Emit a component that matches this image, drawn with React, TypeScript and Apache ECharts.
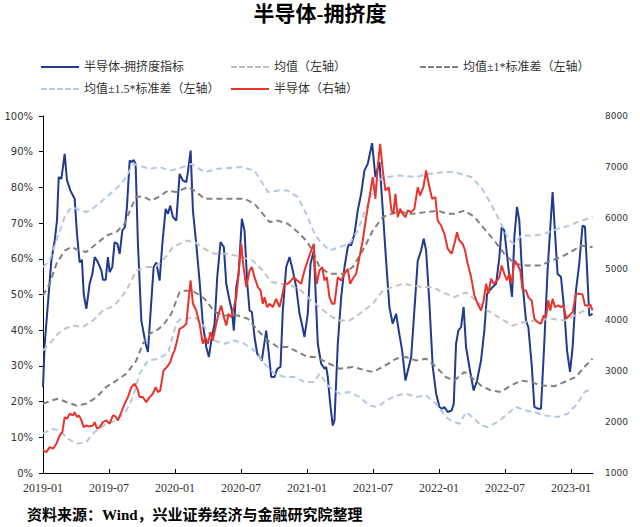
import React, { useEffect, useRef } from "react";
import * as echarts from "echarts";

// x values are months since 2019-01
const xTickLabels = ["2019-01", "2019-07", "2020-01", "2020-07", "2021-01", "2021-07", "2022-01", "2022-07", "2023-01"];
const leftTicks = [0, 10, 20, 30, 40, 50, 60, 70, 80, 90, 100];
const rightTicks = [1000, 2000, 3000, 4000, 5000, 6000, 7000, 8000];

// 半导体-拥挤度指标 (%)
const crowding: [number, number][] = [
  [0, 24], [0.15, 36], [0.76, 59.5], [1.06, 65], [1.27, 70.7], [1.43, 82.9], [1.67, 82.4], [1.97, 89.4], [2.18, 82], [2.49, 79.1],
  [2.88, 76.8], [3.09, 67], [3.33, 59], [3.54, 59.7], [3.7, 50.2], [3.94, 46], [4.24, 53], [4.49, 55.8], [4.7, 60.5], [5.0, 59],
  [5.31, 56.7], [5.45, 54.1], [5.7, 54.1], [5.9, 60.5], [6.06, 56.3], [6.3, 57.7], [6.51, 64.7], [6.76, 64.2], [6.97, 61.4], [7.21, 67.9],
  [7.45, 68.9], [7.63, 74.5], [7.88, 87.5], [8.06, 87.1], [8.24, 87.7], [8.42, 86.6], [8.63, 64.2], [8.94, 42.7], [9.33, 36.2], [9.54, 33.9],
  [9.85, 48.3], [10.06, 57.7], [10.3, 59], [10.6, 53.9], [10.85, 64.2], [11.15, 74], [11.36, 72.6], [11.57, 74.9], [11.81, 71.7], [12.12, 70.7],
  [12.42, 83.8], [12.72, 81.9], [13.03, 81.5], [13.17, 84.3], [13.42, 90.3], [13.63, 73.5], [13.93, 64.2], [14.23, 53.9], [14.53, 41.8], [14.84, 35.3],
  [15.08, 32.5], [15.35, 38.1], [15.6, 41.8], [15.84, 54.9], [16.14, 64.7], [16.44, 63.3], [16.66, 53], [16.96, 48.3], [17.17, 45.5], [17.35, 39.9],
  [17.57, 52.1], [17.78, 55.8], [18.08, 71.2], [18.32, 67.9], [18.57, 53], [18.78, 45.5], [18.99, 45.1], [19.23, 38.1], [19.48, 33.4], [19.89, 31.5],
  [20.29, 39.9], [20.5, 34.3], [20.75, 26.9], [21.05, 26.9], [21.29, 29.2], [21.59, 29.7], [21.8, 45.5], [22.11, 57.7], [22.41, 60.5], [22.71, 56.7],
  [23.02, 52.1], [23.32, 44.6], [23.53, 41.8], [23.77, 38.1], [24.07, 44.6], [24.32, 58.6], [24.62, 62.3], [24.98, 36.2], [25.29, 30.6], [25.59, 29.2],
  [25.74, 29.7], [25.89, 26.9], [26.11, 19.4], [26.34, 13.3], [26.5, 14.7], [26.8, 36.2], [27.11, 49.3], [27.41, 57.7], [27.71, 63.3], [27.86, 64.2],
  [28.01, 63.7], [28.32, 67], [28.61, 73.5], [28.92, 78.2], [29.22, 84.7], [29.52, 86.6], [29.92, 92.4], [30.22, 82.9], [30.59, 87.1], [30.89, 73.5],
  [31.19, 59.5], [31.49, 46.5], [31.79, 41.8], [32.1, 44.6], [32.34, 39.9], [32.65, 34.3], [32.95, 25.9], [33.25, 29.7], [33.47, 32.5], [33.76, 45.5],
  [34.07, 59.5], [34.37, 62.3], [34.61, 65.6], [34.83, 62.3], [35.13, 47.4], [35.43, 29.7], [35.74, 22.2], [36.04, 18.5], [36.28, 18], [36.49, 18.5],
  [36.79, 17.1], [37.15, 17.5], [37.34, 19.4], [37.55, 36.2], [37.76, 39.9], [38.01, 40.9], [38.24, 46.5], [38.46, 35.3], [38.76, 29.7], [39.15, 23.1],
  [39.46, 25.9], [39.82, 31.5], [40.12, 39.9], [40.37, 50.2], [40.58, 51.1], [40.88, 52.1], [41.19, 53], [41.49, 60.5], [41.7, 68.9], [41.94, 67.9],
  [42.3, 57.7], [42.64, 49.3], [42.85, 66.1], [43.09, 74.5], [43.3, 70.7], [43.6, 53], [43.91, 42.7], [44.12, 40.9], [44.42, 30.6], [44.67, 18.5],
  [44.97, 18], [45.27, 18], [45.57, 36.2], [45.87, 56.7], [46.12, 68.9], [46.33, 78.7], [46.55, 67], [46.78, 55.8], [47.09, 54.9], [47.39, 45.5],
  [47.64, 34.3], [47.91, 28.3], [48.15, 35.3], [48.45, 51.1], [48.75, 58.6], [49.05, 69.3], [49.27, 69], [49.51, 53.9], [49.66, 44.1], [49.96, 44.6],
];

// 半导体 index (right axis)
const semiIndex: [number, number][] = [
  [0, 1443], [0.31, 1410], [0.61, 1508], [0.91, 1476], [1.22, 1574], [1.52, 1737], [1.76, 1802], [1.97, 2096], [2.18, 2064], [2.43, 2162],
  [2.73, 2129], [2.88, 2194], [3.09, 2096], [3.27, 2129], [3.49, 2031], [3.7, 1900], [3.94, 1933], [4.24, 1913], [4.54, 1933], [4.7, 1998],
  [4.91, 1868], [5.15, 1900], [5.45, 1998], [5.76, 2031], [6.06, 1966], [6.36, 2129], [6.6, 2109], [6.81, 2031], [7.12, 2194], [7.42, 2358],
  [7.72, 2488], [8.03, 2684], [8.33, 2750], [8.58, 2652], [8.78, 2488], [9.08, 2488], [9.39, 2390], [9.69, 2488], [9.99, 2554], [10.24, 2684],
  [10.45, 2586], [10.66, 2619], [10.96, 3011], [11.26, 3076], [11.57, 3174], [11.81, 3338], [11.96, 3400], [12.12, 3534], [12.26, 3664], [12.42, 3828],
  [12.72, 3860], [13.03, 3926], [13.17, 4252], [13.42, 4775], [13.63, 4318], [13.93, 4187], [14.23, 3926], [14.53, 3534], [14.75, 3664], [14.99, 3534],
  [15.23, 3762], [15.44, 3599], [15.75, 3926], [15.96, 4122], [16.2, 4285], [16.44, 4056], [16.66, 3893], [16.87, 4122], [17.11, 4056], [17.35, 4252],
  [17.57, 4448], [17.78, 4906], [18.02, 5494], [18.23, 5036], [18.48, 4644], [18.78, 4971], [18.99, 5036], [19.23, 4840], [19.53, 4644], [19.78, 4579],
  [19.98, 4318], [20.14, 4448], [20.38, 4252], [20.59, 4318], [20.89, 4252], [21.2, 4416], [21.5, 4252], [21.71, 4448], [21.96, 4710], [22.26, 4710],
  [22.56, 4775], [22.8, 4840], [23.11, 4775], [23.47, 4710], [23.77, 4971], [24.07, 5167], [24.38, 5363], [24.62, 5494], [24.72, 5036], [24.89, 4710],
  [25.13, 4971], [25.38, 5036], [25.59, 4775], [25.8, 4840], [26.04, 4448], [26.29, 4318], [26.5, 4318], [26.8, 4840], [27.11, 4775], [27.41, 4906],
  [27.71, 5004], [27.92, 4710], [28.16, 4808], [28.47, 4906], [28.77, 5232], [29.07, 5559], [29.38, 6016], [29.68, 6408], [29.98, 6800], [30.22, 6376],
  [30.43, 6996], [30.65, 7454], [30.89, 6931], [31.13, 6539], [31.43, 6604], [31.68, 6147], [31.86, 6082], [32.04, 6474], [32.25, 6016], [32.47, 6180],
  [32.7, 6082], [32.95, 6016], [33.16, 6147], [33.47, 6114], [33.76, 6180], [34.07, 6604], [34.28, 6441], [34.58, 6604], [34.83, 6931], [35.06, 6670],
  [35.37, 6376], [35.67, 6408], [35.88, 5951], [36.19, 5853], [36.49, 5690], [36.79, 5400], [37.15, 5298], [37.4, 5494], [37.64, 5722], [37.85, 5559],
  [38.15, 5494], [38.37, 5363], [38.61, 5102], [38.92, 4840], [39.22, 4481], [39.52, 4318], [39.82, 4187], [40.06, 4383], [40.28, 4710], [40.49, 4514],
  [40.73, 4808], [40.97, 4710], [41.28, 4775], [41.49, 4840], [41.7, 5069], [41.94, 4906], [42.18, 4775], [42.39, 4906], [42.6, 4710], [42.85, 5167],
  [43.09, 5102], [43.39, 4971], [43.6, 4579], [43.91, 4579], [44.12, 4448], [44.42, 4383], [44.67, 4024], [44.97, 3958], [45.27, 3926], [45.51, 4089],
  [45.73, 4056], [45.94, 4383], [46.12, 4187], [46.33, 4416], [46.55, 4252], [46.85, 4285], [47.09, 4252], [47.33, 4285], [47.55, 4024], [47.85, 4089],
  [48.15, 4154], [48.45, 4514], [48.75, 4514], [49.05, 4500], [49.27, 4285], [49.51, 4285], [49.75, 4298], [49.96, 4187],
];

// 均值（左轴）
const meanLine: [number, number][] = [
  [0, 34.3], [0.61, 36.2], [1.36, 39], [1.97, 40.4], [2.73, 41.3], [3.64, 40.9], [4.54, 42.7], [5.45, 45.5], [6.51, 46.9], [7.58, 51.1],
  [8.48, 56.7], [9.39, 57.7], [10.15, 57.7], [10.9, 59.5], [11.81, 63.3], [13.03, 65.1], [13.78, 64.7], [14.69, 62.8], [15.6, 61.4], [16.81, 61.4],
  [18.02, 60.5], [19.08, 59.5], [19.98, 56.7], [20.75, 53.5], [21.66, 53], [22.56, 52.5], [23.47, 51.1], [24.38, 48.3], [25.13, 46.5], [26.04, 44.1],
  [26.95, 42.7], [27.86, 42.7], [28.77, 44.6], [29.98, 47.4], [30.89, 51.1], [31.79, 52.1], [32.7, 53], [33.61, 52.5], [34.52, 52.1], [35.43, 52.1],
  [36.34, 50.6], [37.4, 49.3], [38.46, 50.6], [39.37, 48.3], [40.42, 45.5], [41.64, 43.2], [42.69, 41.3], [43.76, 42.3], [44.97, 42.7], [46.18, 43.2],
  [47.39, 42.7], [48.3, 44.1], [49.21, 45.5], [49.96, 47.4],
];

// 均值+1*标准差
const upper1: [number, number][] = [
  [0, 49.7], [0.61, 53], [1.22, 58.6], [1.97, 62.3], [2.58, 63.3], [3.33, 62.3], [3.94, 61.9], [4.85, 64.2], [5.76, 66.5], [6.67, 67.5],
  [7.42, 69.8], [8.03, 74.5], [8.48, 77.3], [9.08, 77.5], [9.85, 76.3], [10.6, 77.5], [11.36, 79.1], [12.12, 78.7], [13.17, 80.1], [13.78, 79.1],
  [14.69, 76.8], [15.9, 76.8], [17.41, 76.8], [18.32, 76.8], [19.23, 75.4], [19.98, 72.6], [20.59, 70.3], [21.35, 70.7], [22.26, 69.8], [23.16, 67.5],
  [23.93, 65.1], [24.5, 62.3], [25.13, 57.7], [26.04, 55.8], [27.25, 55.8], [28.16, 57.7], [29.07, 62.3], [29.98, 67.9], [30.89, 71.7], [31.65, 72.6],
  [32.4, 73.1], [33.61, 72.6], [34.83, 73.1], [35.88, 73.5], [36.79, 72.6], [37.4, 72.6], [38.31, 73.5], [39.22, 71.7], [40.12, 68.4], [41.03, 65.1],
  [41.94, 61.4], [42.85, 58.6], [44.06, 58.1], [45.27, 58.1], [46.18, 59.5], [47.09, 60.5], [48.0, 61.9], [48.91, 63.7], [49.96, 63.3],
];

// 均值-1*标准差
const lower1: [number, number][] = [
  [0, 19.4], [0.76, 20.3], [1.36, 20.8], [2.12, 19.9], [3.03, 18.9], [3.94, 19.4], [4.85, 21.2], [5.76, 24.1], [6.67, 25.9], [7.58, 27.8],
  [8.48, 31.5], [9.08, 36.2], [9.69, 39], [10.3, 39.9], [10.9, 41.3], [11.66, 44.6], [12.42, 50.7], [13.03, 51.1], [13.78, 50.7], [14.69, 48.8],
  [15.6, 45.1], [16.51, 44.1], [17.72, 44.1], [18.63, 43.2], [19.53, 39.9], [20.44, 37.1], [21.35, 35.3], [22.26, 35.3], [23.16, 33.9], [24.07, 32.5],
  [24.68, 32.5], [25.13, 32], [26.04, 30.6], [26.95, 29.2], [28.16, 29.7], [29.38, 28.7], [29.98, 28.3], [30.89, 29.7], [32.1, 32], [33.01, 32.5],
  [33.92, 31.5], [34.83, 32], [35.74, 29.7], [36.61, 26.9], [37.4, 25.9], [38.31, 28.3], [38.92, 26.9], [39.82, 24.5], [40.73, 23.1], [41.64, 22.7],
  [42.55, 24.5], [43.46, 25.9], [44.36, 25.5], [45.27, 24.5], [46.48, 24.3], [47.39, 25.5], [48.45, 26.9], [49.21, 29.7], [49.96, 32],
];

// 均值+1.5*标准差
const upper15: [number, number][] = [
  [0, 57.7], [0.61, 59.5], [1.22, 65.1], [1.97, 71.7], [2.58, 74.5], [3.03, 74], [3.94, 73.1], [4.7, 74.5], [5.76, 77.3], [6.81, 80.1],
  [7.58, 82.9], [8.18, 86.6], [8.78, 86.1], [9.69, 85.2], [10.6, 85.7], [11.51, 84.7], [12.26, 85.2], [13.48, 86.6], [14.69, 84.3], [15.9, 85.2],
  [18.02, 85.7], [19.23, 84.7], [19.98, 81], [20.44, 78.7], [21.35, 79.1], [22.26, 79.1], [23.16, 77.3], [23.93, 72.6], [24.68, 67], [25.13, 65.1],
  [26.04, 62.3], [26.95, 63.3], [27.86, 64.2], [28.61, 67.9], [29.52, 75.4], [30.43, 81.9], [31.19, 82.9], [32.4, 83.3], [33.92, 82.9], [35.13, 83.8],
  [36.49, 84.3], [37.4, 84.3], [38.92, 82.9], [39.82, 80.1], [40.73, 75.4], [41.64, 69.8], [42.39, 65.1], [42.85, 64.2], [43.46, 66.5], [44.67, 66.5],
  [45.57, 67], [46.78, 68.4], [47.85, 69.3], [48.6, 70.3], [49.96, 71.7],
];

// 均值-1.5*标准差
const lower15: [number, number][] = [
  [0, 11], [0.76, 12.4], [1.52, 11.9], [2.27, 9.6], [3.03, 8.2], [3.94, 8.7], [4.7, 11.5], [5.76, 13.8], [6.67, 14.7], [7.58, 17.5],
  [8.18, 21.3], [8.78, 27.8], [9.54, 31.5], [10.45, 32], [11.36, 33.5], [12.12, 41.8], [12.42, 43], [13.03, 43.2], [13.78, 43.7], [14.69, 40.9],
  [15.6, 37.1], [16.51, 36.2], [17.41, 37.1], [18.32, 36.2], [19.23, 34.3], [20.14, 30.6], [21.05, 27.8], [21.96, 26.9], [22.86, 26.9], [23.77, 25.5],
  [24.68, 25.5], [25.13, 27.8], [26.04, 24.1], [26.95, 22.2], [27.86, 22.7], [28.77, 21.3], [29.68, 18.9], [30.43, 18.5], [31.19, 20.3], [32.1, 21.7],
  [33.01, 22.2], [33.92, 21.3], [34.83, 21.7], [35.74, 19.4], [36.61, 15.7], [37.09, 14.7], [37.85, 13.8], [38.46, 17.1], [39.22, 15.2], [39.82, 13.3],
  [40.42, 12.9], [41.33, 14.3], [42.24, 16.6], [43.0, 18.5], [43.91, 17.5], [44.67, 17.1], [45.57, 16.1], [46.78, 15.7], [47.7, 16.6], [48.6, 19.4],
  [49.21, 22.7], [49.96, 23.6],
];

const NAME_BLUE = "半导体-拥挤度指标";
const NAME_MEAN = "均值（左轴）";
const NAME_1SD = "均值±1*标准差（左轴）";
const NAME_15SD = "均值±1.5*标准差（左轴）";
const NAME_RED = "半导体（右轴）";

const CJK = "'Liberation Serif', 'Noto Sans CJK SC', serif";
const dash = [6, 4];
const ICON_SOLID = "path://M0,0h38v2h-38z";
const ICON_DASH = "path://M0,0h6v2h-6z M8,0h6v2h-6z M16,0h6v2h-6z M24,0h6v2h-6z M32,0h6v2h-6z";

export default function App() {
  const ref = useRef<HTMLDivElement>(null);
  useEffect(() => {
    if (!ref.current) return;
    const chart = echarts.init(ref.current, null, { renderer: "svg" });
    const tickVals = xTickLabels.map((_, i) => i * 6);
    const legendBase = {
      padding: 0,
      itemWidth: 38,
      itemHeight: 2,
      selectedMode: false,
      itemStyle: { borderWidth: 0 },
      textStyle: { fontSize: 12, fontFamily: CJK, color: "#333" },
    };
    const dashed = (name: string, data: [number, number][], color: string) => ({
      name,
      type: "line",
      yAxisIndex: 0,
      data,
      symbol: "none",
      smooth: false,
      color,
      lineStyle: { color, width: 2, type: dash },
    });
    chart.setOption({
      animation: false,
      backgroundColor: "#ffffff",
      title: {
        text: "半导体-拥挤度",
        left: "center",
        top: -2,
        textStyle: { fontSize: 21, fontWeight: "bold", fontFamily: CJK, color: "#000" },
      },
      legend: [
        { ...legendBase, data: [NAME_BLUE], left: 41, top: 61, icon: ICON_SOLID },
        { ...legendBase, data: [NAME_MEAN], left: 231, top: 61, icon: ICON_DASH },
        { ...legendBase, data: [NAME_1SD], left: 420, top: 61, icon: ICON_DASH },
        { ...legendBase, data: [NAME_15SD], left: 41, top: 83, icon: ICON_DASH },
        { ...legendBase, data: [NAME_RED], left: 231, top: 83, icon: ICON_SOLID },
      ],
      grid: { left: 43, right: 47, top: 116, bottom: 54, outerBoundsMode: "none", containLabel: false },
      xAxis: {
        type: "value",
        min: 0,
        max: 50,
        splitLine: { show: false },
        axisLine: { show: true, lineStyle: { color: "#000", width: 1 } },
        axisTick: { show: true, inside: true, length: 4, customValues: tickVals, lineStyle: { color: "#000" } },
        axisLabel: {
          customValues: tickVals,
          formatter: (v: number) => xTickLabels[Math.round(v / 6)] ?? "",
          fontFamily: "'Liberation Serif', serif",
          fontSize: 12,
          color: "#333",
          margin: 9,
        },
      },
      yAxis: [
        {
          type: "value",
          min: leftTicks[0],
          max: leftTicks[leftTicks.length - 1],
          interval: 10,
          splitLine: { show: false },
          axisLine: { show: true, lineStyle: { color: "#000", width: 1 } },
          axisTick: { show: true, length: 4, lineStyle: { color: "#000" } },
          axisLabel: { formatter: "{value}%", fontFamily: "'DejaVu Sans', sans-serif", fontSize: 10, color: "#333", margin: 10 },
        },
        {
          type: "value",
          position: "right",
          min: rightTicks[0],
          max: rightTicks[rightTicks.length - 1],
          interval: 1000,
          splitLine: { show: false },
          axisLine: { show: false },
          axisTick: { show: false },
          axisLabel: {
            formatter: (v: number) => String(v),
            fontFamily: "'DejaVu Sans', sans-serif",
            fontSize: 9,
            color: "#333",
            margin: 12,
          },
        },
      ],
      series: [
        {
          name: NAME_BLUE,
          type: "line",
          yAxisIndex: 0,
          data: crowding,
          symbol: "none",
          color: "#1f3a8f",
          lineStyle: { color: "#1f3a8f", width: 2 },
        },
        dashed(NAME_MEAN, meanLine, "#c3c3c3"),
        dashed(NAME_1SD, upper1, "#808080"),
        dashed(NAME_1SD, lower1, "#808080"),
        dashed(NAME_15SD, upper15, "#b4c7e7"),
        dashed(NAME_15SD, lower15, "#b4c7e7"),
        {
          name: NAME_RED,
          type: "line",
          yAxisIndex: 1,
          data: semiIndex,
          symbol: "none",
          color: "#e8342b",
          lineStyle: { color: "#e8342b", width: 2 },
        },
      ],
      graphic: [
        {
          type: "text",
          left: 27,
          top: 507,
          style: {
            text: "资料来源：Wind，兴业证券经济与金融研究院整理",
            fontSize: 15,
            fontWeight: "bold",
            fontFamily: CJK,
            fill: "#000",
          },
        },
      ],
    });
    return () => chart.dispose();
  }, []);
  return <div ref={ref} style={{ position: "fixed", left: 0, top: 0, width: 640, height: 527 }} />;
}
